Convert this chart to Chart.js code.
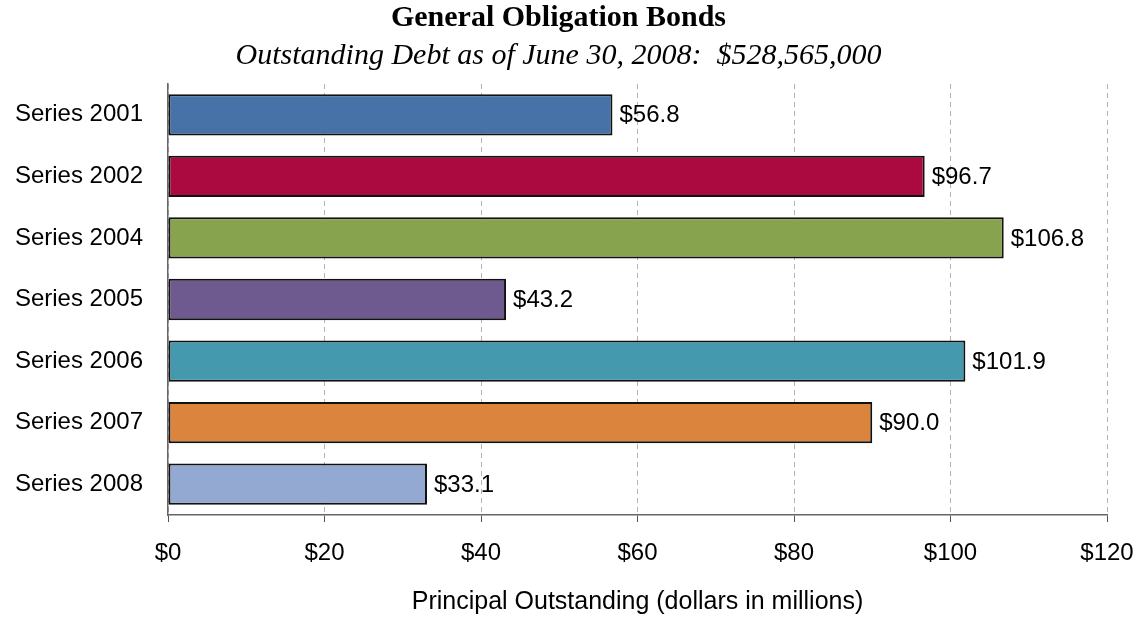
<!DOCTYPE html>
<html>
<head>
<meta charset="utf-8">
<script src="https://cdn.jsdelivr.net/npm/chart.js@4.4.1/dist/chart.umd.min.js"></script>
<style>
  html, body { margin: 0; padding: 0; background: #fff; }
  #wrap { width: 1143px; height: 617px; }
</style>
</head>
<body>
<div id="wrap"><canvas id="chartBonds"></canvas></div>
<script>
const series = ['Series 2001', 'Series 2002', 'Series 2004', 'Series 2005', 'Series 2006', 'Series 2007', 'Series 2008'];
const principal = [56.8, 96.7, 106.8, 43.2, 101.9, 90.0, 33.1];
const barColors = ['#4672A8', '#AA0A40', '#88A34E', '#6F5A8F', '#4599AE', '#DB843D', '#94A9D2'];
const xTicks = [0, 20, 40, 60, 80, 100, 120];

const sansFont = '"Liberation Sans", Arial, sans-serif';
const serifFont = '"Liberation Serif", "Times New Roman", serif';

// puts "$xx.x" just past the end of each bar
const barValueLabels = {
    id: 'barValueLabels',
    afterDatasetsDraw(chart) {
        const ctx = chart.ctx;
        const meta = chart.getDatasetMeta(0);
        ctx.save();
        ctx.font = '24px ' + sansFont;
        ctx.fillStyle = '#000';
        ctx.textBaseline = 'middle';
        ctx.textAlign = 'left';
        meta.data.forEach((bar, i) => {
            ctx.fillText('$' + principal[i].toFixed(1), bar.x + 7, bar.y + 1);
        });
        ctx.restore();
    }
};

const ctx = document.getElementById('chartBonds');

new Chart(ctx, {
    type: 'bar',
    data: {
        labels: series,
        datasets: [{
            data: principal,
            backgroundColor: barColors,
            borderColor: '#111',
            borderWidth: 2,
            borderSkipped: false,
            barPercentage: 0.67,
            categoryPercentage: 1
        }]
    },
    options: {
        indexAxis: 'y',
        responsive: true,
        maintainAspectRatio: false,
        animation: false,
        layout: { padding: { left: 10, right: 36, top: 0, bottom: 0 } },
        plugins: {
            legend: { display: false },
            tooltip: { enabled: false },
            title: {
                display: true,
                text: 'General Obligation Bonds',
                color: '#000',
                font: { family: serifFont, size: 30, weight: 'bold' },
                padding: { top: 0, bottom: 2 }
            },
            subtitle: {
                display: true,
                text: 'Outstanding Debt as of June 30, 2008:  $528,565,000',
                color: '#000',
                font: { family: serifFont, size: 30, style: 'italic' },
                padding: { top: 0, bottom: 10 }
            }
        },
        scales: {
            x: {
                min: 0,
                max: 120,
                afterBuildTicks: axis => { axis.ticks = xTicks.map(v => ({ value: v })); },
                afterFit: axis => {
                    axis.height = 102;
                    axis.paddingLeft = 0;
                    axis.paddingRight = 0;
                },
                grid: {
                    color: '#b4b4b4',
                    lineWidth: 1,
                    tickColor: '#555',
                    tickLength: 7,
                    tickBorderDash: []
                },
                border: { display: true, color: '#666', width: 1.5, dash: [5, 4] },
                ticks: {
                    color: '#000',
                    font: { family: sansFont, size: 24 },
                    padding: 17,
                    maxRotation: 0,
                    callback: v => '$' + v
                },
                title: {
                    display: true,
                    text: 'Principal Outstanding (dollars in millions)',
                    color: '#000',
                    font: { family: sansFont, size: 25 },
                    padding: { top: 0, bottom: 0 }
                }
            },
            y: {
                afterFit: axis => { axis.width = 158; },
                grid: { display: false },
                border: { display: true, color: '#666', width: 1.5 },
                ticks: {
                    color: '#000',
                    font: { family: sansFont, size: 24 },
                    padding: 17
                }
            }
        }
    },
    plugins: [barValueLabels]
});
</script>
</body>
</html>
